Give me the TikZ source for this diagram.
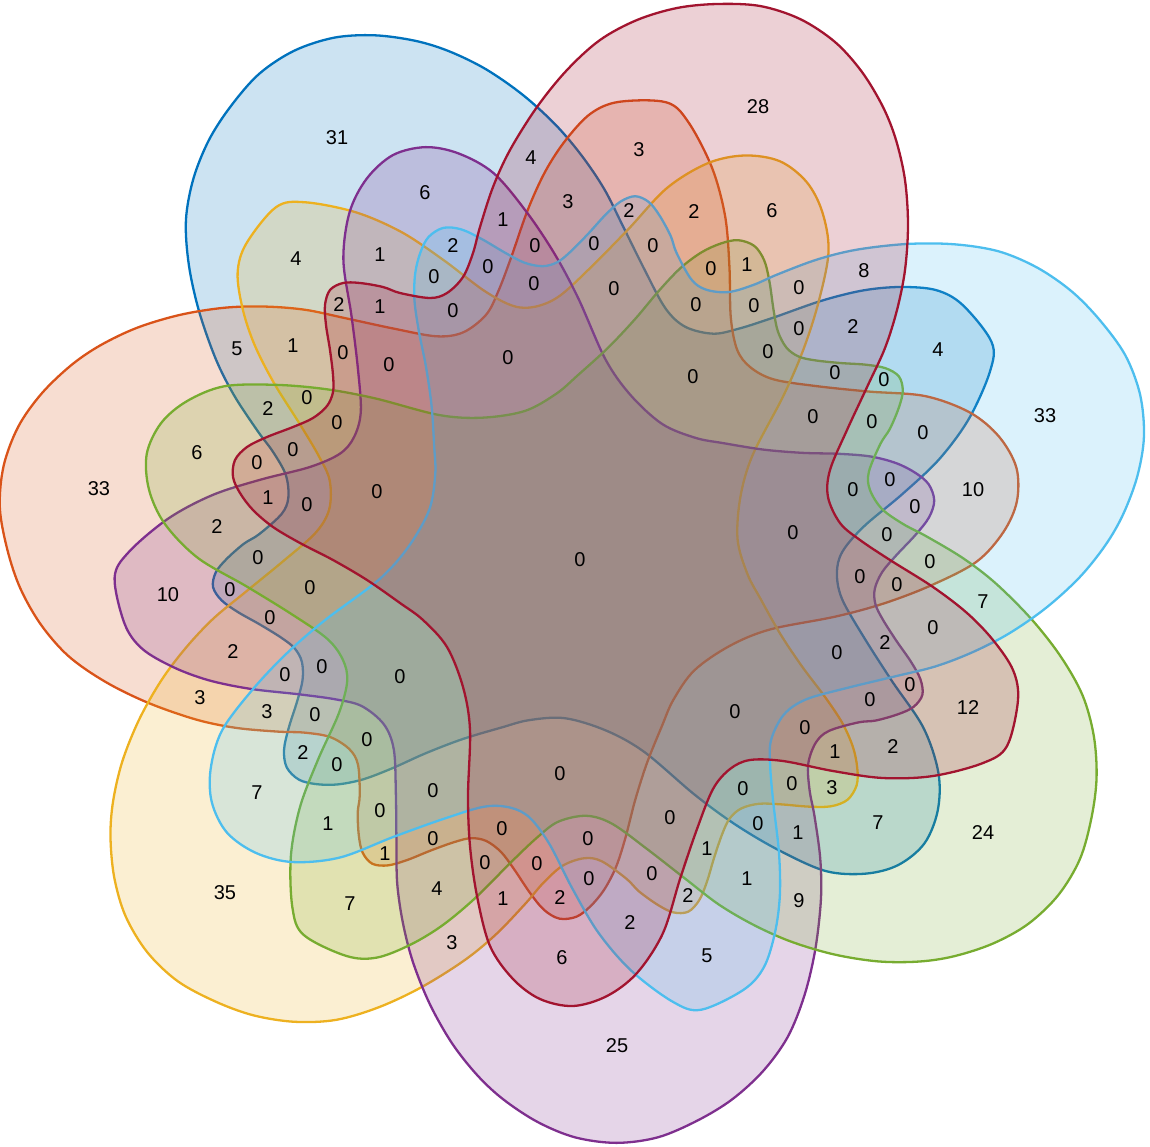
\documentclass[tikz,border=0pt]{standalone}
\usepackage{fontspec}
\setmainfont{Liberation Sans}
\definecolor{cblue}{HTML}{0072BD}
\definecolor{corange}{HTML}{D95319}
\definecolor{cyellow}{HTML}{EDB120}
\definecolor{cpurple}{HTML}{7E2F8E}
\definecolor{cgreen}{HTML}{77AC30}
\definecolor{clightblue}{HTML}{4DBEEE}
\definecolor{cred}{HTML}{A2142F}
\tikzset{
  setshape/.style={line width=1.15pt, fill opacity=0.2, draw opacity=1},
  lab/.style={font=\fontsize{10}{12}\selectfont, inner sep=0pt, text=black}
}
\begin{document}
\begin{tikzpicture}[x=0.5pt, y=-0.5pt]
\useasboundingbox (0,0) rectangle (1150,1146);
\foreach \ang/\col [count=\k] in {51.4286/cblue, 102.8571/corange, 154.2857/cyellow, 205.7143/cpurple, 257.1429/cgreen, 308.5714/clightblue, 0/cred} {
  \filldraw[setshape, draw=\col, fill=\col, shift={(580,560)}, rotate=\ang]
    plot[smooth cycle, tension=0.55] coordinates {
    (-100,-333) (-107,-307) (-117,-283) (-133,-267) (-150,-262) (-180,-267) (-197,-273) (-220,-277) (-237,-277) (-250,-270) (-255,-255) (-254,-235) (-250,-210) (-247,-185) (-247,-168) (-253,-154) (-267,-142) (-287,-133) (-313,-123) (-333,-113) (-345,-100) (-347,-83) (-340,-67) (-327,-50) (-307,-33) (-280,-17) (-247,0) (-213,20) (-180,43) (-157,60) (-133,87) (-117,127) (-110,170) (-112,236) (-110,286) (-103,336) (-90,386) (-67,419) (-40,439) (-7,446) (27,436) (57,413) (83,373) (100,319) (117,269) (133,229) (150,209) (170,200) (203,201) (253,211) (303,218) (353,216) (403,203) (427,186) (438,140) (433,110) (413,80) (387,53) (353,27) (310,0) (280,-20) (260,-37) (248,-63) (250,-90)
    (267,-130) (288,-175) (305,-212) (317,-250) (325,-290) (328,-335) (325,-380) (316,-420) (303,-453) (282,-488) (255,-518) (220,-541) (180,-554) (137,-556) (97,-552) (57,-540) (20,-520) (-13,-490) (-43,-453) (-70,-410) (-87,-373)
    };
}
\foreach \v/\px/\py [count=\i] in {
31/337/138, 4/296/259, 1/380/255, 2/339/305, 1/380/307, 5/237/349, 1/293/346, 0/343/353, 0/389/365, 0/307/398,
4/531/158, 3/639/150, 28/758/107, 6/425/193, 3/568/202, 2/629/211, 2/694/212, 6/772/211, 1/503/220, 2/453/246,
0/535/246, 0/594/244, 0/653/246, 0/434/277, 0/488/267, 0/534/284, 0/711/269, 1/747/265, 0/453/311, 0/614/289,
0/696/305, 0/754/306, 0/508/358, 0/693/377, 0/768/352, 8/864/271, 0/799/288, 2/853/327, 0/799/329, 4/938/350,
0/835/373, 0/884/380, 33/1045/416, 2/268/409, 0/337/423, 6/197/453, 0/293/450, 0/257/463, 33/99/489, 1/268/498,
0/307/505, 0/377/492, 2/217/527, 0/258/558, 10/168/595, 0/230/590, 0/310/588, 0/270/618, 2/233/652, 0/285/675,
0/322/667, 0/400/677, 3/200/698, 3/267/712, 0/315/715, 0/367/740, 2/303/753, 0/337/765, 0/580/560, 0/735/712,
0/560/774, 0/813/417, 0/872/422, 0/923/433, 0/890/480, 0/853/490, 10/973/490, 0/915/507, 0/793/533, 0/887/535,
0/930/562, 0/860/577, 0/897/585, 7/983/602, 0/933/628, 0/837/653, 2/885/643, 0/910/685, 0/870/700, 12/968/708,
0/805/728, 1/835/752, 2/893/747, 3/832/788, 0/792/784, 0/743/789, 0/758/824, 1/798/833, 7/878/823, 24/983/833,
9/799/901, 7/257/793, 0/380/811, 1/328/824, 1/385/854, 35/225/893, 7/350/904, 0/433/791, 0/433/839, 0/502/829,
0/670/818, 0/588/839, 0/485/863, 0/537/864, 0/589/879, 0/652/874, 1/707/849, 1/747/879, 4/437/889, 1/503/899,
2/560/898, 2/688/896, 2/630/923, 3/452/943, 6/562/958, 5/707/956, 25/617/1046} {
  \node[lab] (n\i) at (\px,\py) {\v};
}
\end{tikzpicture}
\end{document}
